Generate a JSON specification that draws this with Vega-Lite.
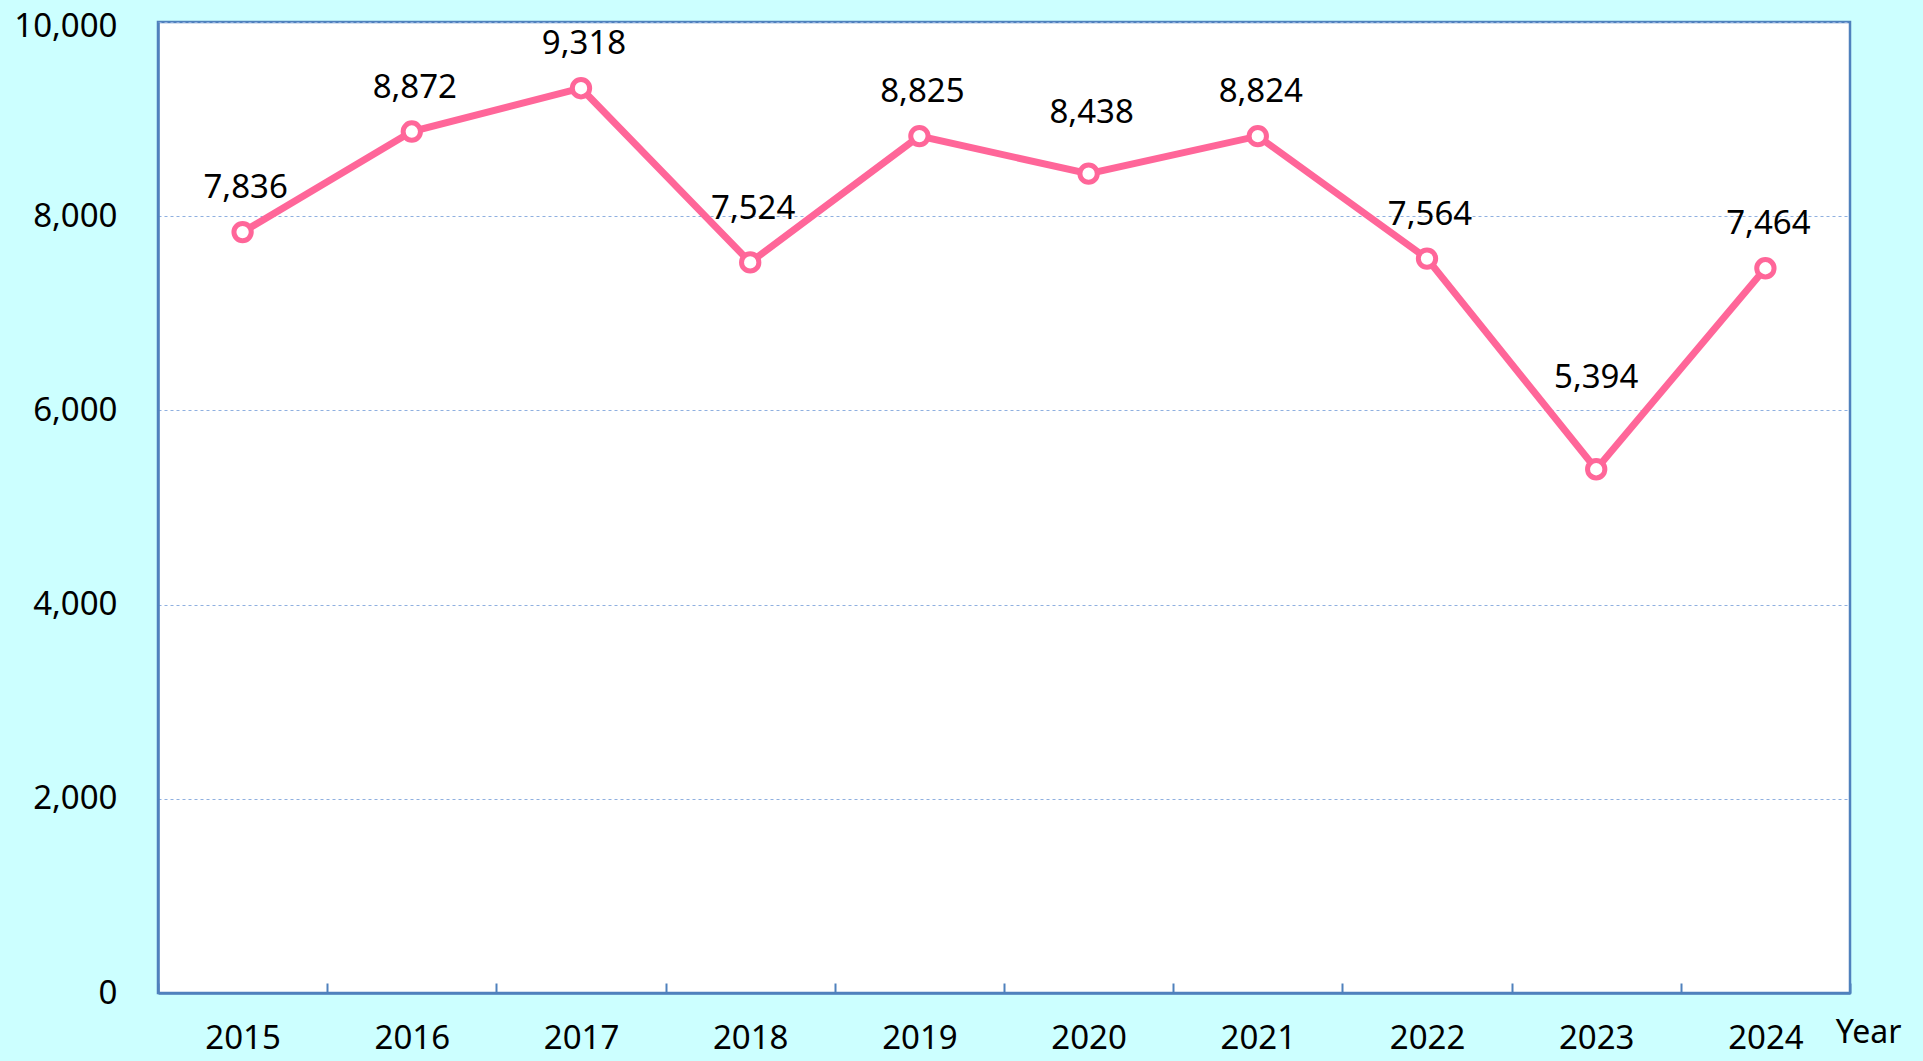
{
  "$schema": "https://vega.github.io/schema/vega-lite/v6.json",
  "autosize": "none",
  "width": 1692,
  "height": 971,
  "padding": {"left": 158, "top": 22, "right": 73, "bottom": 68},
  "background": "#ccffff",
  "config": {
    "font": "Noto Sans",
    "view": {"fill": "#ffffff", "stroke": "#4f81bd", "strokeWidth": 2.5}
  },
  "data": {
    "values": [
      {"year": "2015", "value": 7836},
      {"year": "2016", "value": 8872},
      {"year": "2017", "value": 9318},
      {"year": "2018", "value": 7524},
      {"year": "2019", "value": 8825},
      {"year": "2020", "value": 8438},
      {"year": "2021", "value": 8824},
      {"year": "2022", "value": 7564},
      {"year": "2023", "value": 5394},
      {"year": "2024", "value": 7464}
    ]
  },
  "encoding": {
    "x": {
      "field": "year",
      "type": "ordinal",
      "scale": {"type": "band", "paddingInner": 0, "paddingOuter": 0},
      "axis": {
        "title": "Year",
        "titleFont": "Noto Sans",
        "titleFontSize": 32,
        "titleFontWeight": "normal",
        "titleColor": "#000000",
        "titleX": 1710,
        "titleY": 49,
        "titleAlign": "center",
        "titleBaseline": "alphabetic",
        "labelAngle": 0,
        "labelFontSize": 33,
        "labelColor": "#000000",
        "labelBaseline": "alphabetic",
        "labelPadding": 65,
        "tickBand": "extent",
        "tickSize": -10,
        "tickColor": "#4f81bd",
        "tickWidth": 2,
        "domainColor": "#4f81bd",
        "domainWidth": 2.5,
        "grid": false
      }
    },
    "y": {
      "field": "value",
      "type": "quantitative",
      "scale": {"domain": [0, 10000]},
      "axis": {
        "title": null,
        "values": [0, 2000, 4000, 6000, 8000, 10000],
        "format": ",d",
        "labelFontSize": 33,
        "labelColor": "#000000",
        "labelPadding": 41,
        "labelOffset": {"condition": {"test": "datum.value == 10000", "value": 4}, "value": 0},
        "ticks": false,
        "domainColor": "#4f81bd",
        "domainWidth": 2.5,
        "grid": true,
        "gridColor": "#8fb0e0",
        "gridDash": [3, 3],
        "gridWidth": 1.2
      }
    }
  },
  "layer": [
    {
      "mark": {"type": "line", "color": "#ff6699", "strokeWidth": 7}
    },
    {
      "mark": {"type": "point", "shape": "circle", "filled": true, "fill": "#ffffff", "stroke": "#ff6699", "strokeWidth": 5, "size": 300, "opacity": 1}
    },
    {
      "transform": [{"filter": "datum.year != '2023' && datum.year != '2018' && datum.year != '2020'"}],
      "mark": {"type": "text", "fontSize": 33, "color": "#000000", "baseline": "alphabetic", "dy": -34, "dx": 3},
      "encoding": {"text": {"field": "value", "type": "quantitative", "format": ",d"}}
    },
    {
      "transform": [{"filter": "datum.year == '2018'"}],
      "mark": {"type": "text", "fontSize": 33, "color": "#000000", "baseline": "alphabetic", "dy": -43, "dx": 3},
      "encoding": {"text": {"field": "value", "type": "quantitative", "format": ",d"}}
    },
    {
      "transform": [{"filter": "datum.year == '2020'"}],
      "mark": {"type": "text", "fontSize": 33, "color": "#000000", "baseline": "alphabetic", "dy": -51, "dx": 3},
      "encoding": {"text": {"field": "value", "type": "quantitative", "format": ",d"}}
    },
    {
      "transform": [{"filter": "datum.year == '2023'"}],
      "mark": {"type": "text", "fontSize": 33, "color": "#000000", "baseline": "alphabetic", "dy": -81, "dx": 0},
      "encoding": {"text": {"field": "value", "type": "quantitative", "format": ",d"}}
    }
  ]
}
